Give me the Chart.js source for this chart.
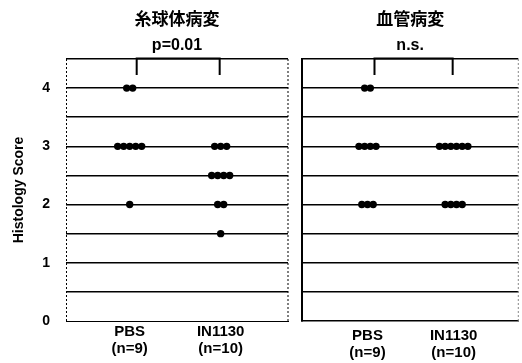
<!DOCTYPE html>
<html><head><meta charset="utf-8">
<script src="https://cdn.jsdelivr.net/npm/chart.js@4/dist/chart.umd.min.js"></script>
<style>
html,body{margin:0;padding:0;background:#fff;}
#wrap{position:relative;width:522px;height:363px;overflow:hidden;background:#fff;}
#c1{position:absolute;left:0;top:0;}
#c2{position:absolute;left:296px;top:0;}
</style></head><body>
<div id="wrap">
<canvas id="c1" width="296" height="363"></canvas>
<canvas id="c2" width="226" height="363"></canvas>
</div>
<script>
// ---- data ----
const categories = ['PBS', 'IN1130'];
const groupSizes = ['(n=9)', '(n=10)'];
const panelTitles = ['糸球体病変', '血管病変'];
const pValues = ['p=0.01', 'n.s.'];
const yTicks = [0, 1, 2, 3, 4];
const yAxisTitle = 'Histology Score';
const glomerularPBS = [4, 4, 3, 3, 3, 3, 3, 2];
const glomerularIN1130 = [3, 3, 3, 2.5, 2.5, 2.5, 2.5, 2, 2, 1.5];
const vascularPBS = [4, 4, 3, 3, 3, 3, 2, 2, 2];
const vascularIN1130 = [3, 3, 3, 3, 3, 3, 2, 2, 2, 2];

const FONT = '"Liberation Sans", Arial, Helvetica, sans-serif';
const CJK = '"Noto Sans CJK JP", "Noto Sans CJK SC", sans-serif';

// spread identical values side by side around the category position
function swarm(values, center, step) {
  const counts = {};
  values.forEach(v => counts[v] = (counts[v] || 0) + 1);
  const seen = {};
  return values.map(v => {
    seen[v] = seen[v] === undefined ? 0 : seen[v] + 1;
    return { x: center + (seen[v] - (counts[v] - 1) / 2) * step, y: v };
  });
}

const framePlugin = {
  id: 'frame',
  beforeDatasetsDraw(chart, args, o) {
    const { ctx, chartArea: a, scales } = chart;
    ctx.save();
    // right edge
    ctx.strokeStyle = o.rightColor;
    ctx.lineWidth = 1;
    ctx.setLineDash([2, 2]);
    ctx.beginPath();
    ctx.moveTo(a.right, a.top);
    ctx.lineTo(a.right, a.bottom);
    ctx.stroke();
    if (o.leftDashed) {
      ctx.strokeStyle = '#000';
      ctx.beginPath();
      ctx.moveTo(a.left + 0.5, a.top);
      ctx.lineTo(a.left + 0.5, a.bottom);
      ctx.stroke();
    }
    ctx.setLineDash([]);
    // significance bracket
    const x1 = scales.x.getPixelForValue(1) + 7;
    const x2 = scales.x.getPixelForValue(2) - 1;
    ctx.strokeStyle = '#000';
    ctx.lineWidth = 2;
    ctx.beginPath();
    ctx.moveTo(x1, a.top + 16);
    ctx.lineTo(x1, a.top - 0.5);
    ctx.lineTo(x2, a.top - 0.5);
    ctx.lineTo(x2, a.top + 16);
    ctx.stroke();
    ctx.restore();
  }
};

function makePanel(canvas, idx, pbs, inn, cfg) {
  const step = 0.066;
  return new Chart(canvas, {
    type: 'scatter',
    data: {
      datasets: [
        { data: swarm(pbs, 1, step) },
        { data: swarm(inn, 2, step) }
      ]
    },
    options: {
      responsive: false,
      animation: false,
      layout: { padding: { left: 0, right: cfg.padRight, top: 0, bottom: 0 } },
      elements: { point: { radius: 3.7, backgroundColor: '#000', borderWidth: 0, hoverRadius: 3.7 } },
      scales: {
        x: {
          type: 'linear', min: cfg.xmin, max: cfg.xmax,
          afterBuildTicks: s => { s.ticks = [{ value: 1 }, { value: 2 }]; },
          afterFit: s => { s.height = 42; },
          ticks: {
            autoSkip: false, maxRotation: 0, color: '#000', padding: cfg.xPad,
            font: { family: FONT, size: 15, weight: 'bold', lineHeight: 1.15 },
            callback: (v, i) => [categories[i], groupSizes[i]]
          },
          grid: { display: false, drawTicks: false, tickLength: 0 },
          border: { display: true, color: '#000', width: cfg.xBorderW, dash: cfg.xDash }
        },
        y: {
          min: 0, max: 4.5,
          afterFit: s => { s.width = cfg.yWidth; },
          ticks: {
            display: cfg.showY, stepSize: 0.5, color: '#000', padding: 16,
            font: { family: FONT, size: 14, weight: 'bold' },
            callback: v => yTicks.includes(v) ? String(v) : ''
          },
          grid: {
            drawTicks: false, lineWidth: 1.6,
            color: c => (c.tick && c.tick.value === 0) ? 'rgba(0,0,0,0)' : '#000'
          },
          border: { display: cfg.yBorder, color: '#000', width: 2 },
          title: {
            display: cfg.showY, text: yAxisTitle, color: '#000',
            font: { family: FONT, size: 14, weight: 'bold', lineHeight: 1.2 },
            padding: { top: 11, bottom: 0 }
          }
        }
      },
      plugins: {
        legend: { display: false },
        tooltip: { enabled: false },
        title: {
          display: true, text: panelTitles[idx], fullSize: false, color: '#000',
          font: { family: CJK, size: 17, weight: 'bold', lineHeight: 1.2 },
          padding: { top: 8, bottom: 6 }
        },
        subtitle: {
          display: true, text: pValues[idx], fullSize: false, color: '#000',
          font: { family: FONT, size: 16, weight: 'bold', lineHeight: 1.2 },
          padding: { top: 2, bottom: 3.4 }
        },
        frame: { rightColor: cfg.rightColor, leftDashed: !cfg.yBorder }
      }
    },
    plugins: [framePlugin]
  });
}

makePanel(document.getElementById('c1'), 0, glomerularPBS, glomerularIN1130, {
  xmin: 0.30, xmax: 2.74, padRight: 8, yWidth: 66, showY: true, yBorder: false,
  xBorderW: 1, xDash: [2, 2], xPad: 2, rightColor: '#000'
});
makePanel(document.getElementById('c2'), 1, vascularPBS, vascularIN1130, {
  xmin: 0.24, xmax: 2.75, padRight: 2, yWidth: 6, showY: false, yBorder: true,
  xBorderW: 1.6, xDash: [], xPad: 6, rightColor: '#888'
});
</script>
</body></html>
